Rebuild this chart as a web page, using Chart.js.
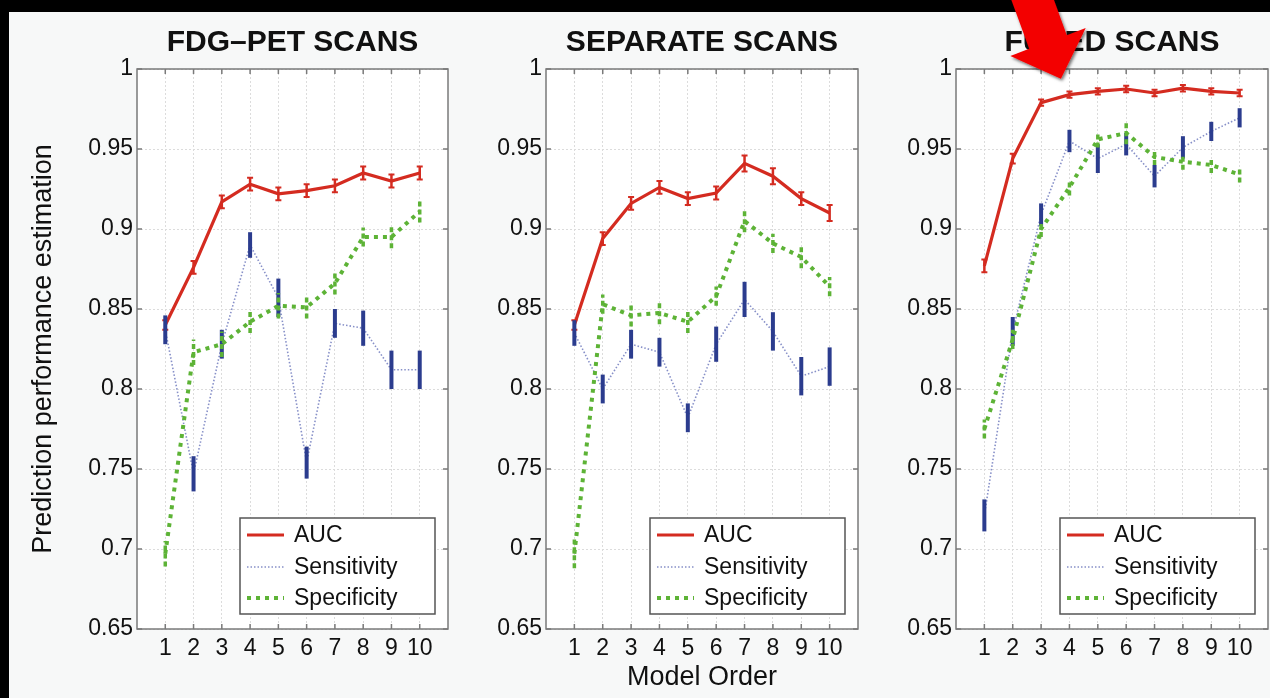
<!DOCTYPE html>
<html><head><meta charset="utf-8">
<script src="https://cdn.jsdelivr.net/npm/chart.js@4.4.1/dist/chart.umd.min.js"></script>
<style>
html,body{margin:0;padding:0;background:#f7f8f8;width:1270px;height:698px;overflow:hidden;position:relative}
#topbar{position:absolute;left:0;top:0;width:1270px;height:12px;background:#000}
#leftbar{position:absolute;left:0;top:0;width:9px;height:698px;background:#000}
canvas{position:absolute;top:0}
#arrow{position:absolute;left:0;top:0;z-index:10}
</style></head><body>
<div id="topbar"></div><div id="leftbar"></div>
<canvas id="c1" width="460" height="698" style="left:0px"></canvas>
<canvas id="c2" width="410" height="698" style="left:460px"></canvas>
<canvas id="c3" width="400" height="698" style="left:870px"></canvas>
<svg id="arrow" width="1270" height="698">
  <defs><filter id="sh" x="-20%" y="-20%" width="140%" height="140%"><feDropShadow dx="1.5" dy="2" stdDeviation="1.5" flood-color="#000" flood-opacity="0.55"/></filter></defs>
  <polygon filter="url(#sh)" fill="#f30000" points="1005.4,-16.5 1029.2,48.8 1010.3,55.9 1060.9,78.7 1085.7,28.1 1066.8,35.2 1043,-30"/>
</svg>
<script>
// ---- data ----
const modelOrder = [1, 2, 3, 4, 5, 6, 7, 8, 9, 10];
const xTicks = [1, 2, 3, 4, 5, 6, 7, 8, 9, 10];
const yTicks = [0.65, 0.7, 0.75, 0.8, 0.85, 0.9, 0.95, 1];
const yTickLabels = ['0.65', '0.7', '0.75', '0.8', '0.85', '0.9', '0.95', '1'];
const seriesNames = ['AUC', 'Sensitivity', 'Specificity'];
const panelTitles = ['FDG\u2013PET SCANS', 'SEPARATE SCANS', 'FUSED SCANS'];
const yAxisTitle = 'Prediction performance estimation';
const xAxisTitle = 'Model Order';

const fdgAuc     = [0.840, 0.876, 0.917, 0.928, 0.922, 0.924, 0.927, 0.935, 0.930, 0.935];
const fdgAucErr  = [0.003, 0.004, 0.004, 0.004, 0.004, 0.004, 0.004, 0.004, 0.004, 0.004];
const fdgSens    = [0.837, 0.747, 0.828, 0.890, 0.857, 0.754, 0.841, 0.838, 0.812, 0.812];
const fdgSensErr = [0.009, 0.011, 0.009, 0.008, 0.012, 0.010, 0.009, 0.011, 0.012, 0.012];
const fdgSpec    = [0.697, 0.823, 0.828, 0.842, 0.852, 0.851, 0.866, 0.895, 0.895, 0.911];
const fdgSpecErr = [0.008, 0.008, 0.008, 0.007, 0.008, 0.007, 0.007, 0.006, 0.007, 0.007];

const sepAuc     = [0.840, 0.894, 0.916, 0.926, 0.919, 0.9225, 0.941, 0.933, 0.919, 0.910];
const sepAucErr  = [0.003, 0.004, 0.004, 0.004, 0.004, 0.004, 0.005, 0.005, 0.004, 0.005];
const sepSens    = [0.835, 0.800, 0.828, 0.823, 0.782, 0.828, 0.856, 0.836, 0.808, 0.814];
const sepSensErr = [0.008, 0.009, 0.009, 0.009, 0.009, 0.011, 0.011, 0.012, 0.012, 0.012];
const sepSpec    = [0.697, 0.853, 0.846, 0.8475, 0.842, 0.858, 0.905, 0.891, 0.8825, 0.864];
const sepSpecErr = [0.009, 0.006, 0.007, 0.007, 0.007, 0.006, 0.007, 0.006, 0.007, 0.006];

const fusAuc     = [0.877, 0.944, 0.979, 0.984, 0.986, 0.9875, 0.985, 0.988, 0.986, 0.985];
const fusAucErr  = [0.004, 0.003, 0.002, 0.002, 0.002, 0.002, 0.002, 0.002, 0.002, 0.002];
const fusSens    = [0.721, 0.836, 0.909, 0.955, 0.944, 0.953, 0.933, 0.951, 0.961, 0.9695];
const fusSensErr = [0.010, 0.009, 0.007, 0.007, 0.009, 0.007, 0.007, 0.007, 0.006, 0.006];
const fusSpec    = [0.775, 0.831, 0.900, 0.926, 0.956, 0.960, 0.945, 0.942, 0.940, 0.934];
const fusSpecErr = [0.006, 0.006, 0.005, 0.005, 0.005, 0.007, 0.005, 0.005, 0.005, 0.005];

// ---- styles ----
const FONT = '"Liberation Sans", Arial, Helvetica, sans-serif';
const styles = [
  {color: '#d42b20', width: 3.2, dash: [], barColor: '#d42b20', barWidth: 2.5, barDash: [], cap: 3},
  {color: '#8790c8', width: 1.6, dash: [1.5, 2], barColor: '#2b3c8e', barWidth: 4, barDash: [], cap: 0},
  {color: '#5db336', width: 4, dash: [4, 5], barColor: '#5db336', barWidth: 3.5, barDash: [5, 3], cap: 0}
];

const decor = {
  id: 'decor',
  beforeDraw(chart) {
    const {ctx, chartArea: a} = chart;
    ctx.save();
    ctx.fillStyle = '#ffffff';
    ctx.fillRect(a.left, a.top, a.right - a.left, a.bottom - a.top);
    ctx.restore();
  },
  afterDatasetDraw(chart, args) {
    const ds = chart.data.datasets[args.index];
    const st = styles[ds.styleIndex];
    const xs = chart.scales.x, ys = chart.scales.y, ctx = chart.ctx;
    ctx.save();
    ctx.strokeStyle = st.barColor;
    ctx.lineWidth = st.barWidth;
    ctx.setLineDash(st.barDash);
    ds.data.forEach((p, i) => {
      const x = xs.getPixelForValue(p.x);
      const y1 = ys.getPixelForValue(p.y - ds.errors[i]);
      const y2 = ys.getPixelForValue(p.y + ds.errors[i]);
      ctx.beginPath(); ctx.moveTo(x, y1); ctx.lineTo(x, y2); ctx.stroke();
      if (st.cap) {
        ctx.lineWidth = 2;
        ctx.beginPath();
        ctx.moveTo(x - st.cap, y1); ctx.lineTo(x + st.cap, y1);
        ctx.moveTo(x - st.cap, y2); ctx.lineTo(x + st.cap, y2);
        ctx.stroke();
        ctx.lineWidth = st.barWidth;
      }
    });
    ctx.restore();
  },
  afterDraw(chart, args, opts) {
    const {ctx, chartArea: a} = chart;
    const xs = chart.scales.x, ys = chart.scales.y;
    ctx.save();
    // box
    ctx.strokeStyle = '#7a7a7a';
    ctx.lineWidth = 1.5;
    ctx.setLineDash([]);
    ctx.strokeRect(a.left, a.top, a.right - a.left, a.bottom - a.top);
    // inward ticks
    ctx.beginPath();
    xTicks.forEach(v => {
      const x = xs.getPixelForValue(v);
      ctx.moveTo(x, a.bottom); ctx.lineTo(x, a.bottom - 5);
      ctx.moveTo(x, a.top); ctx.lineTo(x, a.top + 5);
    });
    yTicks.forEach(v => {
      const y = ys.getPixelForValue(v);
      ctx.moveTo(a.left, y); ctx.lineTo(a.left + 5, y);
      ctx.moveTo(a.right, y); ctx.lineTo(a.right - 5, y);
    });
    ctx.stroke();
    // title
    ctx.fillStyle = '#111111';
    ctx.font = 'bold 30px ' + FONT;
    ctx.textAlign = 'center';
    ctx.textBaseline = 'alphabetic';
    ctx.fillText(opts.title, (a.left + a.right) / 2, a.top - 18);
    // legend
    const bw = 195, bh = 96;
    const bx = a.right - 13 - bw, by = a.bottom - 15 - bh;
    ctx.fillStyle = '#ffffff';
    ctx.fillRect(bx, by, bw, bh);
    ctx.strokeStyle = '#555';
    ctx.lineWidth = 1.5;
    ctx.strokeRect(bx, by, bw, bh);
    const rows = [17, 49, 80];
    chart.data.datasets.slice().sort((p, q) => p.styleIndex - q.styleIndex).forEach((ds, k) => {
      const st = styles[ds.styleIndex];
      const y = by + rows[k];
      ctx.strokeStyle = st.color;
      ctx.lineWidth = k === 1 ? 1.6 : st.width;
      ctx.setLineDash(st.dash);
      ctx.beginPath(); ctx.moveTo(bx + 7, y); ctx.lineTo(bx + 44, y); ctx.stroke();
      ctx.setLineDash([]);
      ctx.fillStyle = '#111111';
      ctx.font = '23px ' + FONT;
      ctx.textAlign = 'left';
      ctx.textBaseline = 'middle';
      ctx.fillText(ds.label, bx + 54, y + 1);
    });
    ctx.restore();
  }
};

function makeChart(id, title, auc, aucErr, sens, sensErr, spec, specErr, cfg) {
  const series = [[auc, aucErr], [sens, sensErr], [spec, specErr]];
  const orders = [2, 1, 0];
  const datasets = series.map((s, k) => ({
    label: seriesNames[k],
    styleIndex: k,
    order: orders[k],
    data: modelOrder.map((m, i) => ({x: m, y: s[0][i]})),
    errors: s[1],
    borderColor: styles[k].color,
    borderWidth: styles[k].width,
    borderDash: styles[k].dash,
    pointRadius: 0,
    tension: 0,
    fill: false
  }));
  new Chart(document.getElementById(id), {
    type: 'line',
    data: {datasets},
    plugins: [decor],
    options: {
      responsive: false,
      animation: false,
      devicePixelRatio: 1,
      layout: {padding: {left: cfg.padLeft, right: cfg.padRight, top: 69, bottom: 0}},
      plugins: {legend: {display: false}, tooltip: {enabled: false}, decor: {title}},
      scales: {
        x: {
          type: 'linear', min: 0, max: 11,
          afterBuildTicks: s => { s.ticks = xTicks.map(v => ({value: v})); },
          afterFit: s => { s.height = 69; },
          ticks: {font: {family: FONT, size: 23}, color: '#111111', padding: 6, maxRotation: 0, autoSkip: false,
                  callback: v => String(v)},
          grid: {color: '#dcdcdc', lineWidth: 1, drawTicks: false},
          border: {display: false, dash: [2, 2]},
          title: {display: !!cfg.xTitle, text: xAxisTitle, font: {family: FONT, size: 27}, color: '#111111',
                  padding: {top: 0, bottom: 4}}
        },
        y: {
          type: 'linear', min: 0.65, max: 1,
          afterBuildTicks: s => { s.ticks = yTicks.map(v => ({value: v})); },
          afterFit: s => { s.width = cfg.yWidth; },
          ticks: {font: {family: FONT, size: 23}, color: '#111111', padding: 4,
                  callback: (v, i) => yTickLabels[i]},
          grid: {color: '#dcdcdc', lineWidth: 1, drawTicks: false},
          border: {display: false, dash: [2, 2]},
          title: {display: !!cfg.yTitle, text: yAxisTitle, font: {family: FONT, size: 27}, color: '#111111',
                  padding: {top: 17, bottom: 0}}
        }
      }
    }
  });
}

makeChart('c1', panelTitles[0], fdgAuc, fdgAucErr, fdgSens, fdgSensErr, fdgSpec, fdgSpecErr,
          {padLeft: 10, padRight: 12, yWidth: 127, yTitle: true, xTitle: false});
makeChart('c2', panelTitles[1], sepAuc, sepAucErr, sepSens, sepSensErr, sepSpec, sepSpecErr,
          {padLeft: 0, padRight: 12, yWidth: 86, yTitle: false, xTitle: true});
makeChart('c3', panelTitles[2], fusAuc, fusAucErr, fusSens, fusSensErr, fusSpec, fusSpecErr,
          {padLeft: 0, padRight: 2, yWidth: 86, yTitle: false, xTitle: false});
</script>
</body></html>
